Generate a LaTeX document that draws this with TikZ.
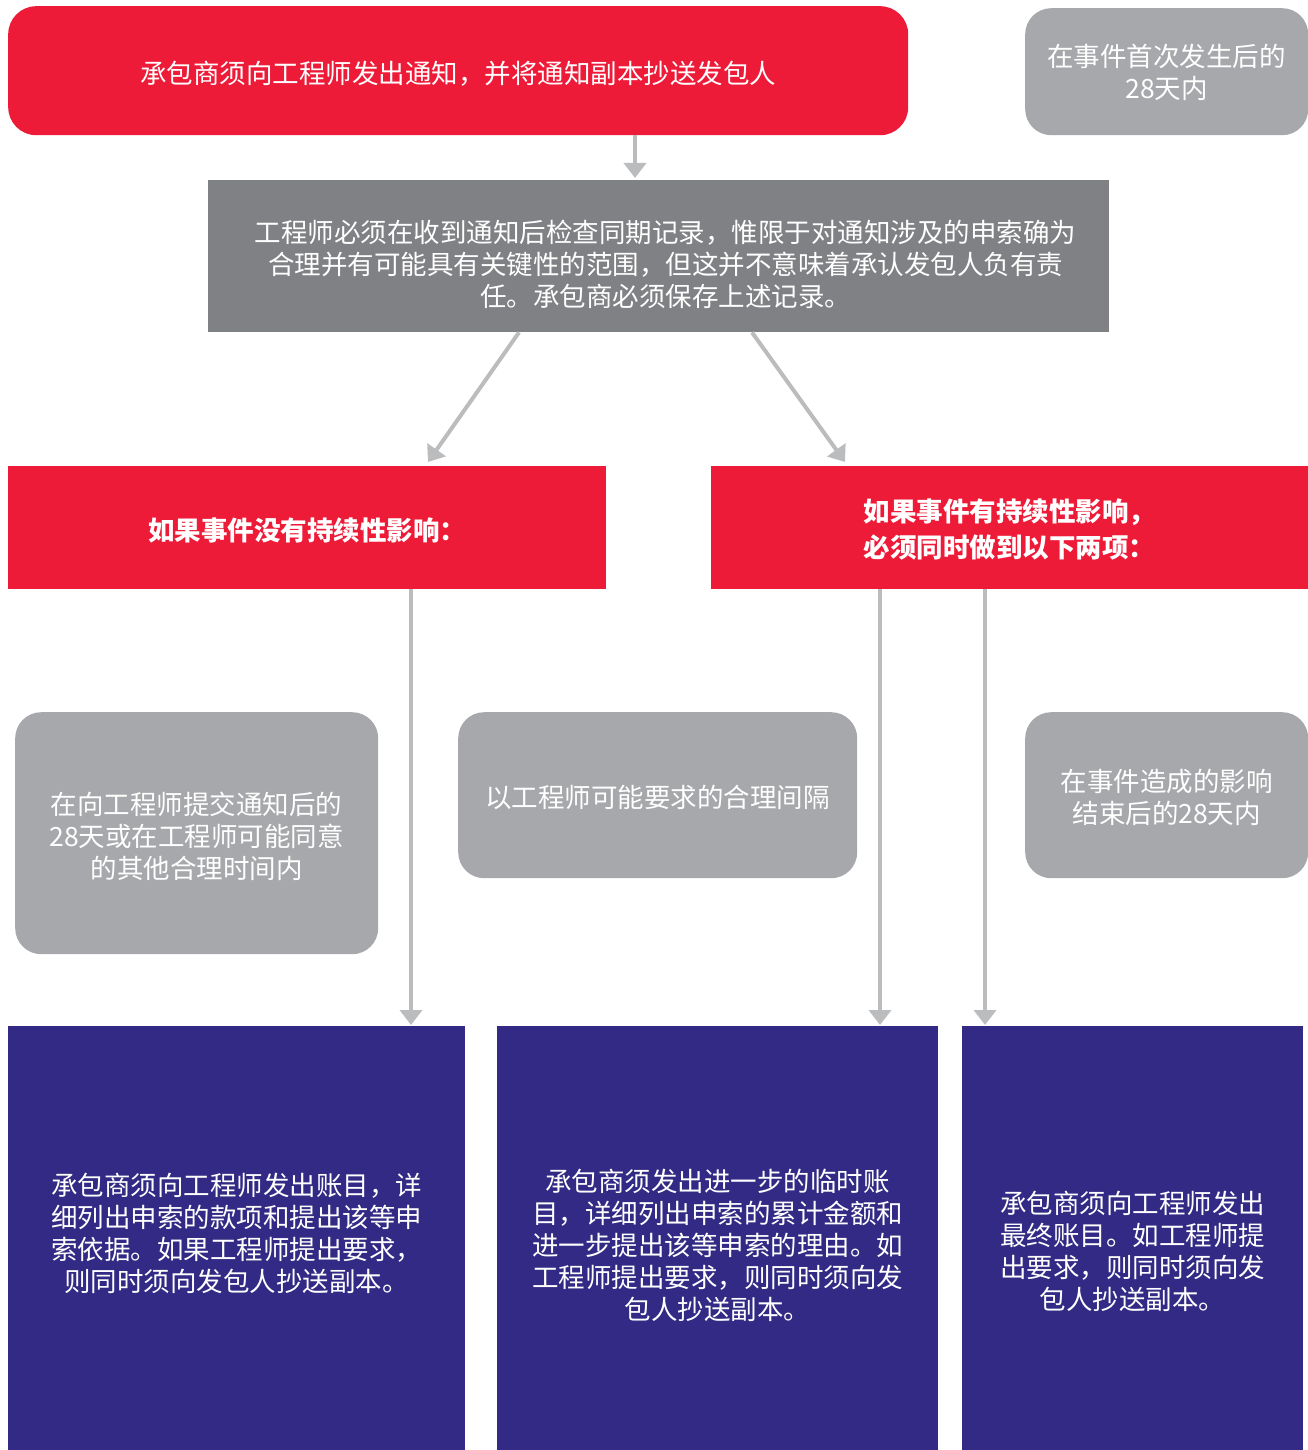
\documentclass[tikz,border=0pt]{standalone}
\usepackage{fontspec}
\newfontfamily\cjk{Noto Sans CJK SC}
\usetikzlibrary{arrows.meta,calc}
\definecolor{cred}{HTML}{ED1B38}
\definecolor{cgray}{HTML}{A7A8AB}
\definecolor{cdark}{HTML}{808184}
\definecolor{cnavy}{HTML}{322A84}
\definecolor{carrow}{HTML}{BBBCBE}
\tikzset{
  box/.style={anchor=north west, inner sep=0pt},
  redbox/.style={box, fill=cred},
  graybox/.style={box, fill=cgray},
  darkbox/.style={box, fill=cdark},
  navybox/.style={box, fill=cnavy},
  txt/.style={inner sep=0pt, align=center, text=white,
    font=\cjk\fontsize{26.5}{32}\selectfont},
  btxt/.style={txt, font=\cjk\bfseries\fontsize{26.5}{36}\selectfont},
  arr/.style={draw=carrow, line width=4pt, -{Triangle[width=22pt,length=15pt]}}
}
\begin{document}
\begin{tikzpicture}[x=1pt,y=-1pt]
\useasboundingbox (0,0) rectangle (1308,1450);
% top row
\node[redbox, rounded corners=28pt, minimum width=900pt, minimum height=129pt] (top) at (8,6) {};
\node[txt] (topT) at ($(top.center)+(0,3)$) {承包商须向工程师发出通知，并将通知副本抄送发包人};
\node[graybox, rounded corners=26pt, minimum width=283pt, minimum height=127pt] (t28) at (1025,8) {};
\node[txt] (t28T) at ($(t28.center)+(0,1)$) {在事件首次发生后的\\28天内};
% middle
\node[darkbox, minimum width=901pt, minimum height=152pt] (mid) at (208,180) {};
\node[txt] (midT) at ($(mid.center)+(7,8)$)
  {工程师必须在收到通知后检查同期记录，惟限于对通知涉及的申索确为\\合理并有可能具有关键性的范围，但这并不意味着承认发包人负有责\\任。承包商必须保存上述记录。};
% red conditions
\node[redbox, minimum width=598pt, minimum height=123pt] (redL) at (8,466) {};
\node[btxt] (redLT) at ($(redL.center)+(0,3)$) {如果事件没有持续性影响：};
\node[redbox, minimum width=597pt, minimum height=123pt] (redR) at (711,466) {};
\node[btxt] (redRT) at ($(redR.center)+(0,2)$) {如果事件有持续性影响，\\必须同时做到以下两项：};
% gray time boxes
\node[graybox, rounded corners=26pt, minimum width=363pt, minimum height=242pt] (g1) at (15,712) {};
\node[txt] (g1T) at ($(g1.center)+(0,3)$) {在向工程师提交通知后的\\28天或在工程师可能同意\\的其他合理时间内};
\node[graybox, rounded corners=26pt, minimum width=399pt, minimum height=166pt] (g2) at (458,712) {};
\node[txt] (g2T) at ($(g2.center)+(0,2)$) {以工程师可能要求的合理间隔};
\node[graybox, rounded corners=26pt, minimum width=283pt, minimum height=166pt] (g3) at (1025,712) {};
\node[txt] (g3T) at ($(g3.center)+(0,2)$) {在事件造成的影响\\结束后的28天内};
% navy boxes
\node[navybox, minimum width=457pt, minimum height=424pt] (b1) at (8,1026) {};
\node[txt] (b1T) at ($(b1.center)+(0,-5)$)
  {承包商须向工程师发出账目，详\\细列出申索的款项和提出该等申\\索依据。如果工程师提出要求，\\则同时须向发包人抄送副本。};
\node[navybox, minimum width=441pt, minimum height=424pt] (b2) at (497,1026) {};
\node[txt] (b2T) at ($(b2.center)+(0,7)$)
  {承包商须发出进一步的临时账\\目，详细列出申索的累计金额和\\进一步提出该等申索的理由。如\\工程师提出要求，则同时须向发\\包人抄送副本。};
\node[navybox, minimum width=341pt, minimum height=424pt] (b3) at (962,1026) {};
\node[txt] (b3T) at ($(b3.center)+(0,13)$)
  {承包商须向工程师发出\\最终账目。如工程师提\\出要求，则同时须向发\\包人抄送副本。};
% arrows
\draw[arr] ($(top.south west)+(627,0)$) -- ($(mid.north west)+(427,-2)$);
\draw[arr] ($(mid.south west)+(311,0)$) -- ($(redL.north west)+(420,-4)$);
\draw[arr] ($(mid.south west)+(544,0)$) -- ($(redR.north west)+(134,-4)$);
\draw[arr] ($(redL.south west)+(403,0)$) -- ($(b1.north west)+(403,-1)$);
\draw[arr] ($(redR.south west)+(169,0)$) -- ($(b2.north west)+(383,-1)$);
\draw[arr] ($(redR.south west)+(274,0)$) -- ($(b3.north west)+(23,-1)$);
\end{tikzpicture}
\end{document}
